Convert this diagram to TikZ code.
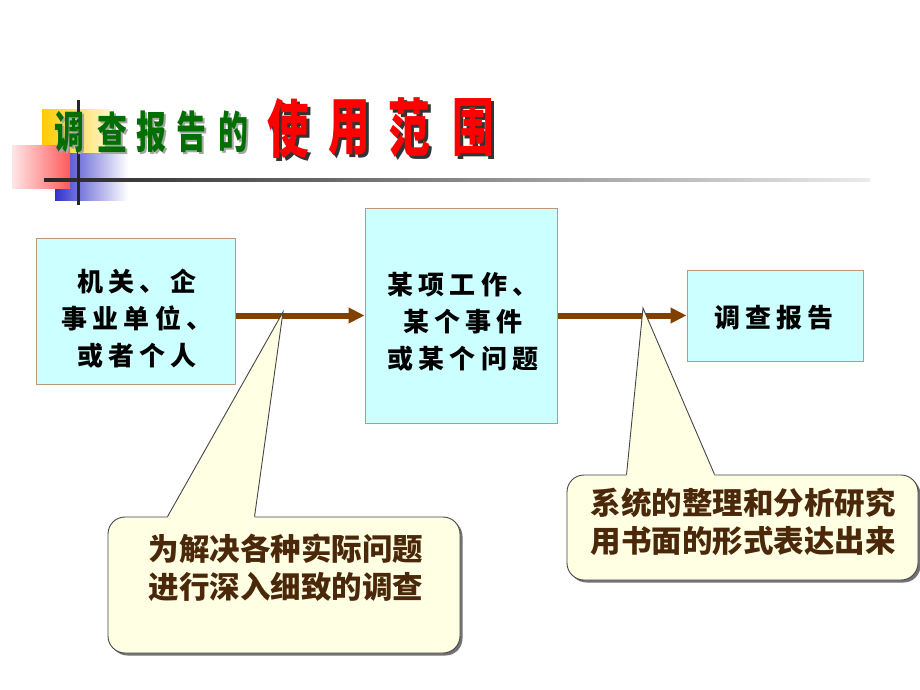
\documentclass[tikz,border=0pt]{standalone}
\usepackage{fontspec}
\newfontfamily\cjk{Noto Sans CJK SC}
\newfontfamily\cjksp[LetterSpace=20]{Noto Sans CJK SC}
\usetikzlibrary{arrows.meta,shadows,calc}
\definecolor{boxfill}{RGB}{204,255,255}
\definecolor{boxline}{RGB}{190,150,120}
\definecolor{arrowbrown}{RGB}{128,64,0}
\definecolor{callfill}{RGB}{255,255,228}
\definecolor{callline}{RGB}{70,70,70}
\definecolor{calltext}{RGB}{75,40,10}
\definecolor{titlegreen}{RGB}{0,110,0}
\definecolor{titlered}{RGB}{255,0,0}
\definecolor{decoyellow}{RGB}{255,204,0}
\definecolor{decoblue}{RGB}{51,51,204}
\definecolor{decopink}{RGB}{255,90,90}
\newcommand\shadowchar[5]{% #1 xscale, #2 dx, #3 shadow colour, #4 colour, #5 char
  \makebox[0pt][l]{\hspace{#2}\raisebox{-#2}{\textcolor{#3}{\scalebox{#1}[1]{#5}}}}%
  \textcolor{#4}{\scalebox{#1}[1]{#5}}}
\begin{document}
\begin{tikzpicture}[x=1pt,y=-1pt,
  boxstyle/.style={draw=boxline, fill=boxfill, line width=1pt, inner sep=0pt},
  boxtext/.style={align=center, text=black, inner sep=0pt,
    font=\cjksp\bfseries\fontsize{26}{37}\selectfont},
  flow/.style={draw=arrowbrown, line width=6pt,
    -{Triangle[length=16pt,width=15pt]}},
  callout/.style={draw=callline, fill=callfill, line width=0.9pt, rounded corners=17pt,
    inner sep=0pt, drop shadow={shadow xshift=2.5pt, shadow yshift=-2.5pt, fill=black!55, opacity=1}},
  calltxt/.style={align=center, text=calltext, inner sep=0pt,
    font=\cjk\bfseries\fontsize{30.5}{38}\selectfont},
  greenchar/.style={inner sep=0pt, font=\cjk\bfseries\fontsize{44}{44}\selectfont},
  redchar/.style={inner sep=0pt, font=\cjk\bfseries\fontsize{63}{63}\selectfont}
]
\useasboundingbox (0,0) rectangle (920,690);
\fill[white] (0,0) rectangle (920,690);

% title decoration
\shade[left color=decoyellow, right color=decoyellow!20] (42,110) rectangle (110,155);
\shade[left color=decoblue, right color=white] (55,153) rectangle (128,200);
\shade[left color=decopink!15, right color=decopink] (12,145) rectangle (70,188);
\shade[left color=black!85, right color=black!8] (44,178.5) rectangle (870,181.5);
\draw[black!85, line width=3pt] (78,100) -- (78,205);

% title text
\foreach \c/\x [count=\i] in {调/68,查/111,报/150,告/190,的/232}{
  \node[greenchar] (g\i) at (\x+1,133) {\shadowchar{0.68}{2pt}{black!35}{titlegreen}{\c}};
}
\foreach \c/\x [count=\i] in {使/287,用/348,范/408,围/472}{
  \node[redchar] (r\i) at (\x+1.5,129.5) {\shadowchar{0.66}{3pt}{black!80}{titlered}{\c}};
}

% boxes
\node[boxstyle, minimum width=199pt, minimum height=146pt] (box1) at (135.5,311) {};
\node[boxstyle, minimum width=192pt, minimum height=215pt] (box2) at (461,315.5) {};
\node[boxstyle, minimum width=176pt, minimum height=91pt] (box3) at (775,315.5) {};
\node[boxtext] (t1) at (137,318.5) {机关、企\\事业单位、\\或者个人};
\node[boxtext] (t2) at (463,321.5) {某项工作、\\某个事件\\或某个问题};
\node[boxtext] (t3) at (774,318) {调查报告};

% arrows
\draw[flow] (box1.east |- box2.west) -- (box2.west);
\draw[flow] (box2.east) -- (box3.west);

% callouts
\coordinate (tip1) at (283,312);
\coordinate (tip2) at (643,308);
\node[callout, minimum width=352pt, minimum height=136pt] (c1) at (284,585) {};
\node[callout, minimum width=351pt, minimum height=105pt] (c2) at (742.5,527.5) {};
\fill[callfill] ($(c1.north west)+(60,1.5)$) -- (tip1) -- ($(c1.north west)+(147,1.5)$) -- cycle;
\draw[callline, line width=0.9pt] ($(c1.north west)+(60,0)$) -- (tip1) -- ($(c1.north west)+(147,0)$);
\fill[callfill] ($(c2.north west)+(60,1.5)$) -- (tip2) -- ($(c2.north west)+(148,1.5)$) -- cycle;
\draw[callline, line width=0.9pt] ($(c2.north west)+(60,0)$) -- (tip2) -- ($(c2.north west)+(148,0)$);
\node[calltxt] (ct1) at (286,568) {为解决各种实际问题\\进行深入细致的调查};
\node[calltxt] (ct2) at (743,522) {系统的整理和分析研究\\用书面的形式表达出来};
\end{tikzpicture}
\end{document}
